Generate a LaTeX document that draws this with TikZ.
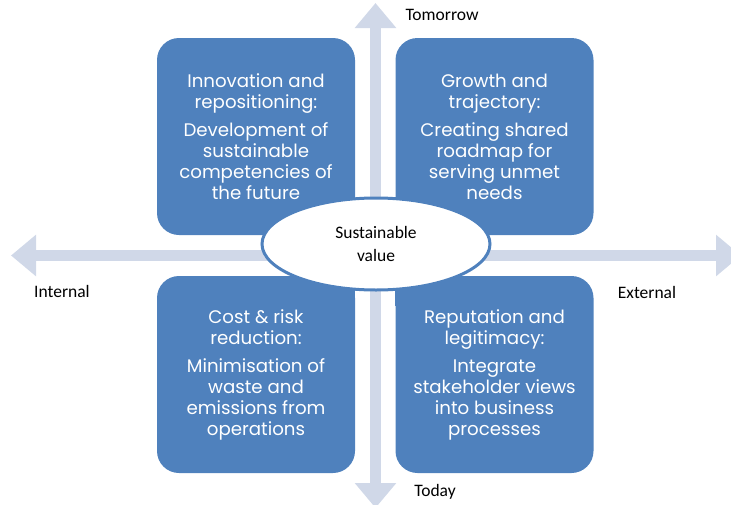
\documentclass[tikz,border=0pt]{standalone}
\usepackage{fontspec}
\setmainfont{Carlito}
\newfontfamily\boxfont{Poppins}
\usetikzlibrary{shapes.geometric,arrows.meta}
\definecolor{boxblue}{HTML}{4F81BD}
\definecolor{axisgray}{HTML}{D0D8E8}
\tikzset{
  quad/.style={fill=boxblue, rounded corners=22pt, minimum width=198pt, minimum height=197pt,
    inner sep=0pt, text=white, align=center, font=\boxfont\fontsize{18.2}{21}\selectfont},
  axisline/.style={line width=11pt, draw=axisgray,
    {Triangle[width=40pt,length=25pt]}-{Triangle[width=40pt,length=25pt]}},
  lbl/.style={font=\fontsize{17.5}{21}\selectfont, text=black, inner sep=0pt},
  centre/.style={ellipse, fill=white, draw=boxblue, line width=3pt, minimum width=228pt,
    minimum height=92pt, inner sep=0pt, align=center, font=\fontsize{17.5}{23}\selectfont}
}
\begin{document}
\begin{tikzpicture}[x=1pt,y=-1pt]
\useasboundingbox (0,0) rectangle (731,504);
\clip (0,0) rectangle (731,504);
% axes
\coordinate (W) at (11,255.5);
\coordinate (E) at (741,255.5);
\coordinate (N) at (375.5,3);
\coordinate (S) at (375.5,508);
\draw[axisline] (W) -- (E);
\draw[axisline] (N) -- (S);
% quadrant boxes
\node[quad] (tl) at (256,136.5) {Innovation and\\repositioning:\\[7pt]Development of\\sustainable\\competencies of\\the future};
\node[quad] (tr) at (494.5,136.5) {Growth and\\trajectory:\\[7pt]Creating shared\\roadmap for\\serving unmet\\needs};
\node[quad] (bl) at (256,374.5) {Cost \& risk\\reduction:\\[7pt]Minimisation of\\waste and\\emissions from\\operations};
\node[quad] (br) at (494.5,374.5) {Reputation and\\legitimacy:\\[7pt]Integrate\\stakeholder views\\into business\\processes};
\fill[boxblue] (tl.south east) rectangle +(-30,-30);
\fill[boxblue] (tr.south west) rectangle +(30,-30);
\fill[boxblue] (bl.north east) rectangle +(-30,30);
\fill[boxblue] (br.north west) rectangle +(30,30);
% centre
\node[centre] (sv) at (376,244) {Sustainable\\value};
% labels
\node[lbl] (tom) at (442,15) {Tomorrow};
\node[lbl] (int) at (62,291) {Internal};
\node[lbl] (ext) at (647,292) {External};
\node[lbl] (tod) at (435,492) {Today};
\end{tikzpicture}
\end{document}
